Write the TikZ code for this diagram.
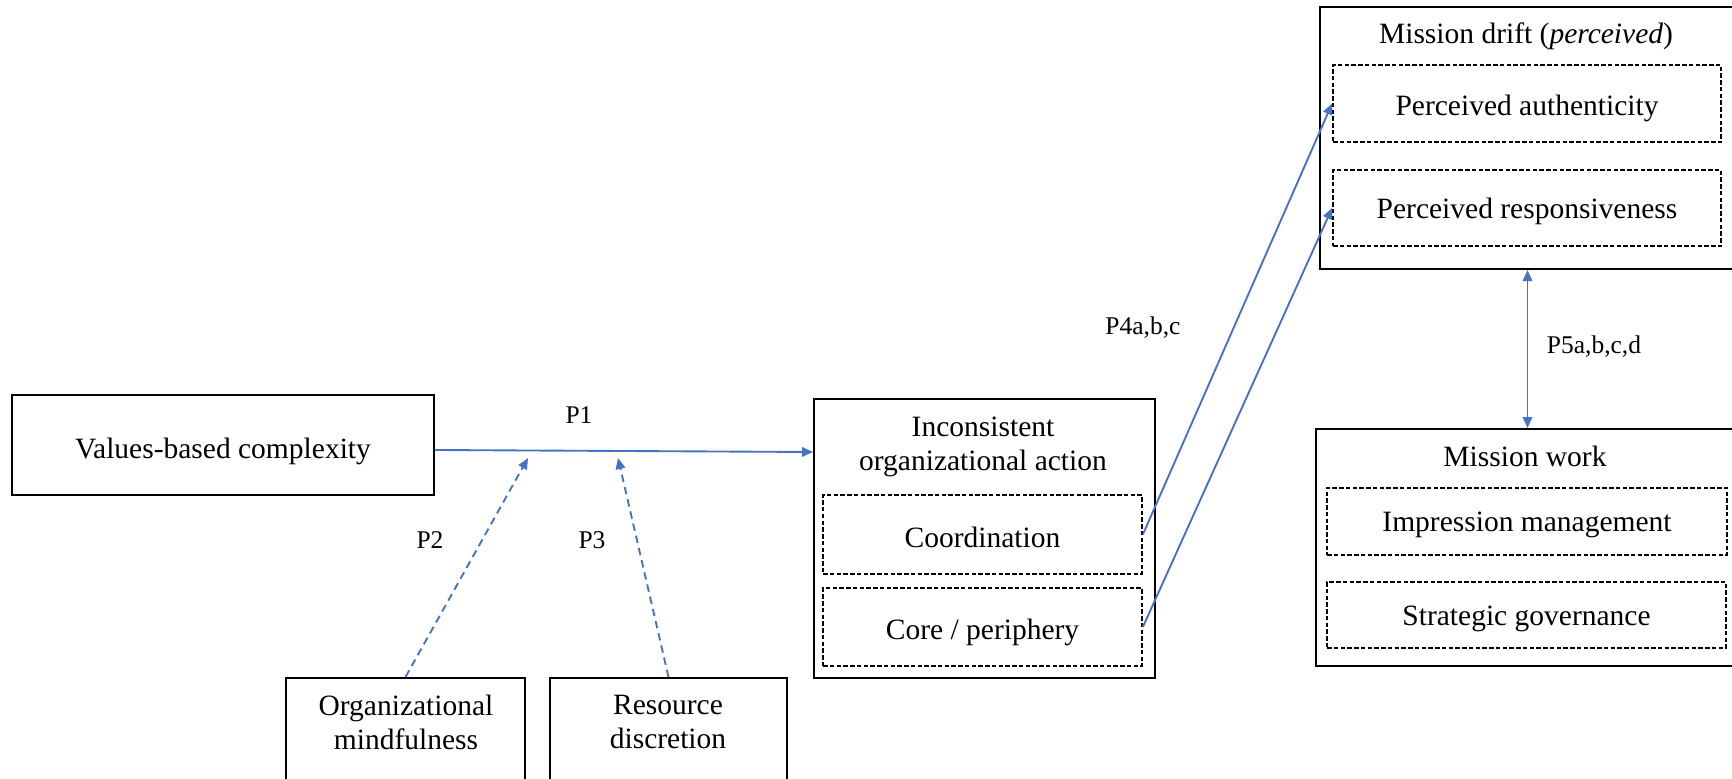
\documentclass[tikz,border=0pt]{standalone}
\usepackage{fontspec}
\setmainfont{Liberation Serif}
\usetikzlibrary{arrows.meta}
\definecolor{linkblue}{RGB}{68,114,196}
\begin{document}
\begin{tikzpicture}[x=0.4pt, y=-0.4pt,
  box/.style={draw, line width=0.8pt, inner sep=0pt},
  subbox/.style={draw, line width=0.7pt, dash pattern=on 1.8pt off 0.9pt, inner sep=0pt},
  txt/.style={font=\fontsize{11.8}{13.6}\selectfont, align=center, inner sep=0pt},
  lbl/.style={font=\fontsize{10.2}{12}\selectfont, inner sep=0pt},
  link/.style={color=linkblue, line width=0.75pt, -{Triangle[length=4.4pt, width=3.8pt]}},
  modlink/.style={link, dash pattern=on 3pt off 2pt}]

  \clip (0,0) rectangle (1732,779);

% left part
  \node [box, minimum width=168.8pt, minimum height=40pt] (vbc) at (223,445) {};
  \node [txt] (vbct) at (223,451) {Values-based complexity};
  \node [box, minimum width=95.6pt, minimum height=56.8pt] (om) at (405.5,749) {};
  \node [txt] (omt) at (406,722) {Organizational\\mindfulness};
  \node [box, minimum width=94.8pt, minimum height=56.8pt] (rd) at (668.5,749) {};
  \node [txt] (rdt) at (668,722) {Resource\\discretion};

% middle
  \node [box, minimum width=136.4pt, minimum height=111.6pt] (ioa) at (984.5,538.5) {};
  \node [txt] (ioat) at (983,447) {Inconsistent\\organizational action};
  \node [subbox, minimum width=127.6pt, minimum height=31.6pt] (coord) at (982.5,534.5) {};
  \node [txt] (coordt) at (982.5,537) {Coordination};
  \node [subbox, minimum width=127.6pt, minimum height=31.2pt] (core) at (982.5,627) {};
  \node [txt] (coret) at (982.5,632) {Core / periphery};

% right part
  \node [box, minimum width=166pt, minimum height=104.8pt] (md) at (1527.5,138) {};
  \node [txt] (mdt) at (1526,36) {Mission drift (\textit{perceived})};
  \node [subbox, minimum width=155.2pt, minimum height=30.8pt] (pa) at (1527,103.5) {};
  \node [txt] (pat) at (1527,108) {Perceived authenticity};
  \node [subbox, minimum width=155.2pt, minimum height=30.4pt] (pr) at (1527,208) {};
  \node [txt] (prt) at (1527,211) {Perceived responsiveness};
  \node [box, minimum width=167.6pt, minimum height=94.8pt] (mw) at (1525.5,547.5) {};
  \node [txt] (mwt) at (1525,456) {Mission work};
  \node [subbox, minimum width=160pt, minimum height=26.8pt] (im) at (1527,521.5) {};
  \node [txt] (imt) at (1527,525) {Impression management};
  \node [subbox, minimum width=159.6pt, minimum height=26.4pt] (sg) at (1526.5,615) {};
  \node [txt] (sgt) at (1526.5,619) {Strategic governance};

% connectors
  \coordinate (m2) at (528,458); \coordinate (m3) at (618,458);
  \draw [link] (vbc.east |- 0,450) -- (ioa.west |- 0,452);
  \draw [modlink] (om.north) -- (m2);
  \draw [modlink] (rd.north) -- (m3);
  \draw [link] (coord.east) -- (pa.west);
  \draw [link] (core.east) -- (pr.west);
  \draw [link, {Triangle[length=4.4pt, width=3.8pt]}-{Triangle[length=4.4pt, width=3.8pt]}] (md.south) -- (md.south |- mw.north);

  \node [lbl] (p1) at (579,415) {P1};
  \node [lbl] (p2) at (430,540) {P2};
  \node [lbl] (p3) at (592,540) {P3};
  \node [lbl] (p4) at (1143,328) {P4a,b,c};
  \node [lbl] (p5) at (1594,347) {P5a,b,c,d};

\end{tikzpicture}
\end{document}
